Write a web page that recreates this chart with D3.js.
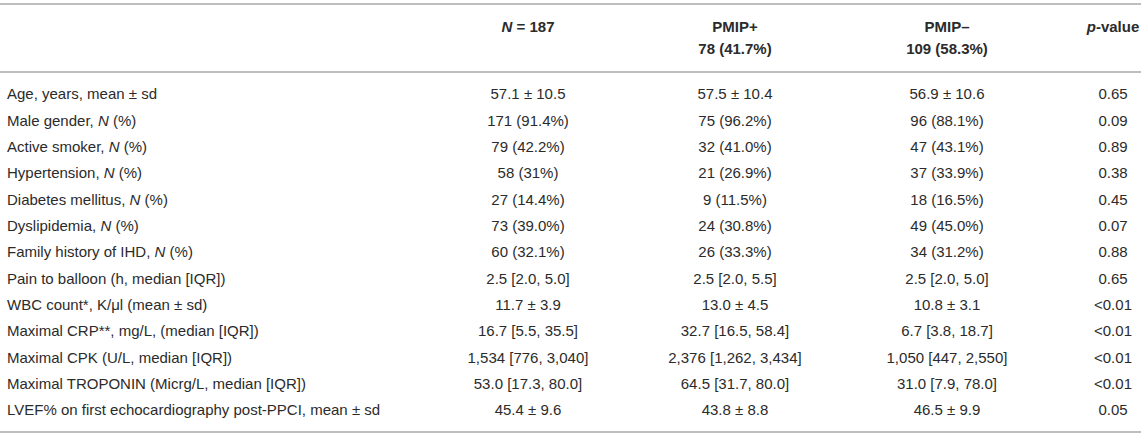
<!DOCTYPE html>
<html lang="en">
<head>
<meta charset="utf-8">
<title>PMIP baseline characteristics</title>
<script src="https://cdn.jsdelivr.net/npm/d3@7"></script>
<style>
    body { margin: 0; background: #fff; }
    svg text { font-family: "Liberation Sans", Arial, Helvetica, sans-serif; font-size: 15px; fill: #2b2b2b; }
    .head { font-weight: bold; }
</style>
</head>
<body>
<div id="s"></div>
<script>
var WIDTH = 1145;
var HEIGHT = 437;

// table content
var columns = ["overall", "pos", "neg", "p"];
var headTop = ["N = 187", "PMIP+", "PMIP\u2013", "p-value"];
var headSub = ["", "78 (41.7%)", "109 (58.3%)", ""];

var labels = [
    "Age, years, mean \u00b1 sd",
    "Male gender, N (%)",
    "Active smoker, N (%)",
    "Hypertension, N (%)",
    "Diabetes mellitus, N (%)",
    "Dyslipidemia, N (%)",
    "Family history of IHD, N (%)",
    "Pain to balloon (h, median [IQR])",
    "WBC count*, K/\u03bcl (mean \u00b1 sd)",
    "Maximal CRP**, mg/L, (median [IQR])",
    "Maximal CPK (U/L, median [IQR])",
    "Maximal TROPONIN (Micrg/L, median [IQR])",
    "LVEF% on first echocardiography post-PPCI, mean \u00b1 sd"
];
var overall = ["57.1 \u00b1 10.5", "171 (91.4%)", "79 (42.2%)", "58 (31%)", "27 (14.4%)", "73 (39.0%)",
    "60 (32.1%)", "2.5 [2.0, 5.0]", "11.7 \u00b1 3.9", "16.7 [5.5, 35.5]", "1,534 [776, 3,040]",
    "53.0 [17.3, 80.0]", "45.4 \u00b1 9.6"];
var pmipPos = ["57.5 \u00b1 10.4", "75 (96.2%)", "32 (41.0%)", "21 (26.9%)", "9 (11.5%)", "24 (30.8%)",
    "26 (33.3%)", "2.5 [2.0, 5.5]", "13.0 \u00b1 4.5", "32.7 [16.5, 58.4]", "2,376 [1,262, 3,434]",
    "64.5 [31.7, 80.0]", "43.8 \u00b1 8.8"];
var pmipNeg = ["56.9 \u00b1 10.6", "96 (88.1%)", "47 (43.1%)", "37 (33.9%)", "18 (16.5%)", "49 (45.0%)",
    "34 (31.2%)", "2.5 [2.0, 5.0]", "10.8 \u00b1 3.1", "6.7 [3.8, 18.7]", "1,050 [447, 2,550]",
    "31.0 [7.9, 78.0]", "46.5 \u00b1 9.9"];
var pValues = ["0.65", "0.09", "0.89", "0.38", "0.45", "0.07", "0.88", "0.65", "<0.01", "<0.01",
    "<0.01", "<0.01", "0.05"];

var rows = labels.map(function(l, i) {
    return { label: l, overall: overall[i], pos: pmipPos[i], neg: pmipNeg[i], p: pValues[i] };
});

const svg = d3.select("#s")
    .append("svg")
    .attr("width", WIDTH)
    .attr("height", HEIGHT);

// column centres
var x = d3.scaleOrdinal().domain(columns).range([528, 735, 947, 1113]);
var y = d3.scaleBand().domain(labels).range([80.8, 423.2]);
var yHead = d3.scalePoint().domain(["top", "sub"]).range([27, 49]);

// rules
var rules = [4, 72, 432];
svg.selectAll("line.rule")
    .data(rules)
    .enter().append("line")
    .attr("class", "rule")
    .attr("x1", 0).attr("x2", 1141)
    .attr("y1", d => d).attr("y2", d => d)
    .attr("stroke", "#a8a8a8")
    .attr("stroke-width", 1.6);

// header, first letter italic for N and p
function italicLead(sel, txt) {
    var m = txt.match(/^(N|p)(.*)$/);
    if (m) {
        sel.append("tspan").style("font-style", "italic").text(m[1]);
        sel.append("tspan").text(m[2]);
    } else {
        sel.text(txt);
    }
}

columns.forEach(function(c, i) {
    var t = svg.append("text").attr("class", "head")
        .attr("x", x(c)).attr("y", yHead("top")).attr("dy", "0.35em")
        .attr("text-anchor", "middle");
    italicLead(t, headTop[i]);
    if (headSub[i]) {
        svg.append("text").attr("class", "head")
            .attr("x", x(c)).attr("y", yHead("sub")).attr("dy", "0.35em")
            .attr("text-anchor", "middle")
            .text(headSub[i]);
    }
});

// body rows
var g = svg.selectAll("g.row")
    .data(rows)
    .enter().append("g")
    .attr("class", "row")
    .attr("transform", d => "translate(0," + (y(d.label) + y.bandwidth() / 2) + ")");

g.append("text")
    .attr("x", 7).attr("dy", "0.35em")
    .each(function(d) {
        var t = d3.select(this);
        var k = d.label.indexOf(", N (%)");
        if (k >= 0) {
            t.append("tspan").text(d.label.slice(0, k + 2));
            t.append("tspan").style("font-style", "italic").text("N");
            t.append("tspan").text(d.label.slice(k + 3));
        } else {
            t.text(d.label);
        }
    });

columns.forEach(function(c) {
    g.append("text")
        .attr("x", x(c)).attr("dy", "0.35em")
        .attr("text-anchor", "middle")
        .text(d => d[c]);
});
</script>
</body>
</html>
